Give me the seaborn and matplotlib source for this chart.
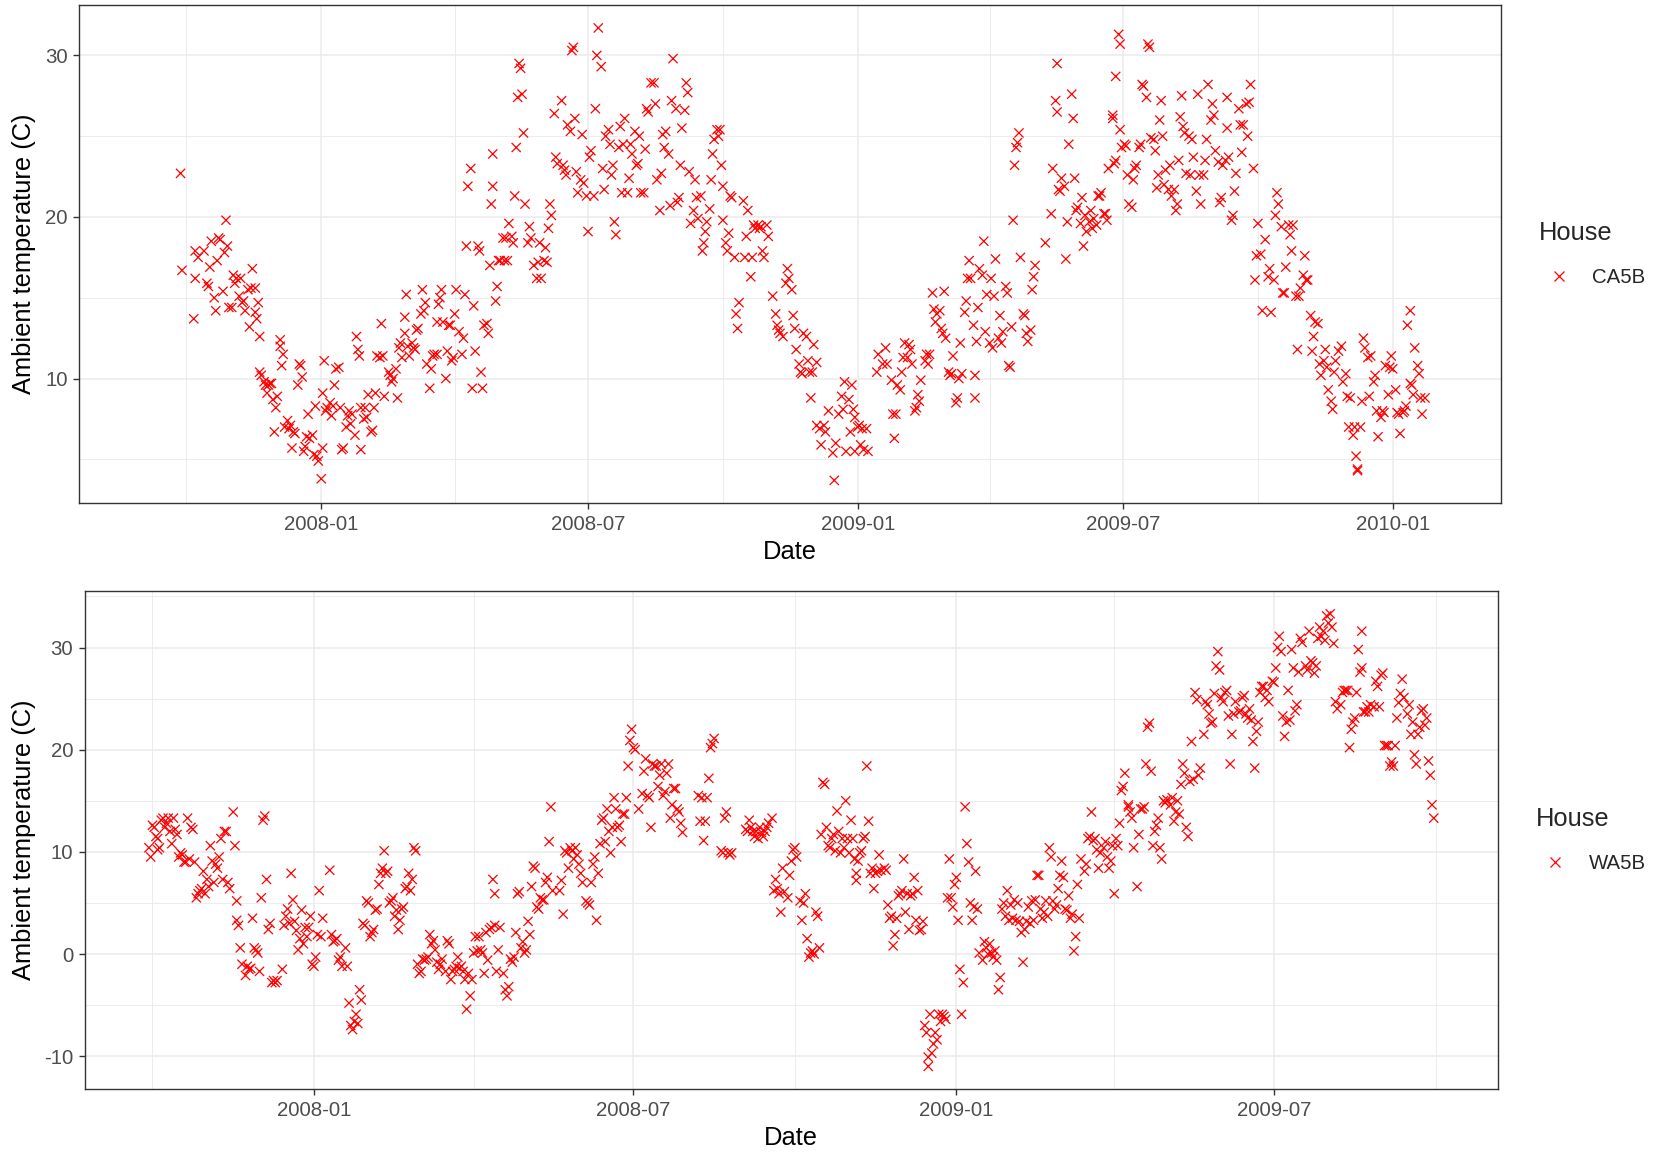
import numpy as np
import pandas as pd
import matplotlib
matplotlib.use("Agg")
import matplotlib.pyplot as plt
import matplotlib.dates as mdates
from matplotlib.ticker import MultipleLocator
import seaborn as sns

# ============================================================
# DATA  (days after 2008-01-01, ambient temperature in C)
# ============================================================

BASE_DATE = pd.Timestamp("2008-01-01")

ca5b_points = [
    (-96, 22.7), (-95, 16.7), (-87, 13.7), (-86, 16.2), (-86, 17.9), (-84, 17.5), (-80, 17.9), (-78, 15.9), (-77, 15.7), (-76, 16.9),
    (-75, 18.5), (-73, 15.0), (-72, 14.2), (-71, 17.3), (-70, 18.7), (-69, 18.6), (-67, 15.4), (-66, 17.8), (-65, 19.8), (-64, 18.2),
    (-63, 14.4), (-61, 14.4), (-60, 16.4), (-59, 15.9), (-58, 16.2), (-56, 15.1), (-55, 16.2), (-54, 14.7), (-53, 14.8), (-52, 14.2),
    (-50, 15.5), (-49, 13.2), (-48, 15.6), (-47, 16.8), (-45, 15.6), (-45, 14.1), (-44, 13.7), (-43, 14.7), (-42, 12.6), (-42, 10.4),
    (-41, 10.2), (-39, 9.8), (-38, 9.6), (-37, 9.1), (-36, 9.6), (-35, 9.7), (-34, 9.7), (-33, 8.7), (-32, 6.7), (-31, 8.2),
    (-30, 8.9), (-28, 12.4), (-28, 12.0), (-27, 10.8), (-26, 11.5), (-25, 7.0), (-23, 7.4), (-22, 6.9), (-21, 7.1), (-20, 5.7),
    (-19, 6.7), (-18, 6.6), (-16, 9.6), (-15, 10.9), (-14, 10.8), (-13, 10.1), (-12, 5.5), (-11, 5.8), (-10, 6.4), (-9, 7.8),
    (-8, 6.3), (-6, 6.5), (-5, 5.3), (-4, 8.3), (-3, 5.2), (-2, 4.9), (0, 3.8), (1, 5.7), (1, 9.1), (2, 11.1),
    (3, 8.0), (4, 8.2), (6, 8.5), (7, 7.7), (8, 8.3), (9, 9.6), (10, 10.6), (12, 10.7), (13, 8.2), (14, 5.6),
    (15, 5.7), (17, 7.0), (18, 7.7), (19, 8.0), (20, 7.2), (21, 7.8), (23, 6.5), (24, 12.6), (25, 11.8), (26, 11.4),
    (27, 8.2), (27, 5.6), (29, 7.5), (30, 8.2), (31, 7.6), (32, 9.0), (34, 6.7), (35, 6.8), (36, 8.2), (37, 9.1),
    (38, 11.4), (40, 11.3), (41, 13.4), (42, 11.4), (43, 8.9), (46, 10.4), (47, 10.2), (48, 9.8), (49, 10.0), (51, 10.6),
    (52, 8.8), (53, 11.9), (54, 12.2), (55, 11.3), (57, 12.8), (57, 13.8), (58, 15.2), (59, 12.0), (60, 11.4), (62, 12.2),
    (63, 11.9), (64, 11.8), (65, 13.0), (66, 13.1), (68, 14.0), (69, 15.5), (70, 14.2), (71, 14.7), (72, 10.9), (74, 9.4),
    (75, 10.6), (76, 11.4), (77, 11.5), (79, 13.5), (79, 11.5), (80, 14.6), (81, 15.0), (82, 15.5), (83, 13.5), (85, 10.0),
    (86, 11.7), (87, 13.3), (88, 13.3), (89, 11.1), (90, 11.3), (91, 14.0), (92, 15.5), (94, 12.9), (96, 11.5), (97, 12.5),
    (98, 15.2), (99, 18.2), (100, 21.9), (102, 23.0), (103, 9.4), (104, 14.5), (105, 11.7), (107, 18.2), (108, 17.9), (109, 10.4),
    (110, 9.4), (111, 13.3), (113, 13.4), (114, 12.8), (115, 17.0), (116, 20.8), (117, 23.9), (117, 21.9), (119, 14.8), (120, 15.7),
    (121, 17.3), (122, 17.3), (124, 18.7), (125, 17.3), (126, 18.7), (127, 17.3), (128, 19.6), (130, 18.8), (131, 18.4), (132, 21.3),
    (133, 24.3), (134, 27.4), (135, 29.5), (136, 29.2), (137, 27.6), (138, 25.2), (139, 20.8), (141, 18.4), (142, 19.4), (143, 18.7),
    (145, 17.0), (147, 16.2), (148, 17.2), (149, 18.4),
    (150, 16.2), (152, 17.3), (153, 18.1), (154, 17.2), (155, 19.3), (156, 20.8), (157, 20.1), (159, 26.4), (160, 23.7), (161, 23.3),
    (164, 27.2), (165, 23.2), (166, 22.9), (167, 22.6), (168, 25.7), (170, 25.3), (171, 30.3), (172, 30.5), (173, 26.1), (174, 22.8),
    (175, 21.5), (177, 22.3), (178, 25.1), (179, 22.1), (181, 21.3), (182, 19.1), (183, 23.7), (184, 24.1), (186, 21.3), (187, 26.7),
    (188, 30.0), (189, 31.7), (191, 29.3), (192, 23.0), (193, 21.7), (194, 25.0), (196, 25.4), (197, 24.5), (198, 22.6), (199, 23.2),
    (200, 19.7), (201, 18.9), (203, 24.3), (204, 25.6), (205, 21.5), (206, 24.5), (207, 26.1), (209, 21.5), (210, 22.4), (211, 24.5),
    (212, 23.9), (214, 25.3), (215, 23.2), (216, 23.3), (217, 25.0), (218, 21.5), (220, 21.5), (221, 24.2), (222, 26.7), (223, 26.5),
    (225, 28.3), (227, 28.3), (228, 27.0), (229, 22.3), (231, 20.4), (232, 22.7), (233, 25.1), (234, 24.3), (235, 25.3), (237, 23.9),
    (238, 20.7), (239, 27.2), (240, 29.8), (242, 26.7), (243, 20.9), (244, 21.2), (245, 23.2), (246, 25.5), (248, 26.6), (249, 28.3),
    (250, 27.7), (251, 22.8), (252, 19.6), (254, 20.4), (255, 22.3), (256, 21.2), (257, 19.9), (259, 21.3), (260, 17.9), (261, 18.4),
    (262, 19.1), (263, 19.7), (265, 20.5), (266, 22.3), (267, 23.9), (268, 24.8), (270, 25.4), (271, 25.0), (272, 25.4), (273, 23.2),
    (274, 21.9), (274, 19.8), (276, 18.4), (277, 17.9), (278, 19.0), (279, 21.3), (280, 21.2), (282, 17.5), (283, 14.0), (284, 13.1),
    (285, 14.7), (288, 21.0), (289, 17.5), (290, 18.8), (291, 20.4), (293, 16.3), (294, 17.5), (295, 19.5), (296, 19.3), (298, 19.5),
    (299, 19.3), (300, 19.4), (301, 17.9), (302, 17.5), (304, 19.5), (305, 18.8), (308, 15.1), (310, 14.0), (311, 13.3), (312, 13.0),
    (313, 12.8), (315, 12.6), (317, 15.9), (318, 16.8), (319, 16.2), (321, 15.5), (322, 13.9), (323, 13.1), (324, 11.8), (326, 10.9),
    (327, 10.4), (328, 10.3), (329, 12.8), (331, 12.6), (332, 11.1), (333, 10.4), (334, 8.8), (335, 10.4), (336, 12.1), (338, 11.0),
    (338, 7.1), (340, 6.9), (341, 5.9), (343, 7.1), (344, 6.7), (346, 8.0), (349, 5.4), (350, 3.7), (351, 6.0), (353, 7.8),
    (355, 8.9), (356, 8.1), (357, 9.8), (358, 5.5), (360, 8.7), (361, 6.7), (362, 9.6), (363, 8.1), (364, 7.6), (364, 5.5),
    (366, 7.0), (367, 7.1), (368, 5.9), (369, 6.9), (370, 5.6), (372, 6.9), (373, 5.5), (379, 10.4), (380, 11.5), (383, 10.9),
    (385, 11.9), (386, 10.9), (389, 9.9), (390, 7.8), (391, 6.3), (392, 7.8), (393, 9.6), (395, 9.3), (396, 10.4), (397, 11.3),
    (398, 12.2), (400, 11.3), (401, 12.1), (402, 11.8), (403, 10.9), (405, 8.0), (406, 8.2), (407, 9.0), (408, 8.6), (409, 9.9),
    (412, 11.1), (413, 11.5), (414, 10.9), (415, 11.5), (417, 15.3), (418, 14.3), (419, 13.5), (420, 14.0), (422, 14.2), (423, 13.1),
    (424, 12.8), (425, 15.4), (426, 12.5), (428, 10.4), (429, 10.2), (430, 10.3), (431, 11.4), (433, 8.5), (434, 8.8), (435, 10.0),
    (436, 12.2), (437, 10.3), (439, 14.1), (440, 14.8), (441, 16.2), (442, 17.3), (443, 16.2), (445, 13.3), (446, 10.2), (446, 8.8),
    (447, 12.3), (448, 14.4), (449, 16.8), (451, 16.4), (452, 18.5), (453, 12.9), (454, 15.2), (456, 12.2), (457, 16.2), (458, 11.9),
    (459, 15.1), (460, 17.4), (462, 12.5), (463, 13.9), (464, 12.2), (465, 12.9), (467, 15.7), (468, 15.3), (469, 10.8), (470, 10.7),
    (471, 13.2), (472, 19.8), (473, 23.2), (474, 24.3), (475, 24.6), (476, 25.2), (477, 17.5), (479, 14.0), (480, 13.9), (481, 12.8),
    (482, 12.3), (484, 13.0), (485, 15.5), (486, 16.3), (487, 17.0), (494, 18.4), (498, 20.2), (499, 23.0), (501, 27.2), (502, 29.5),
    (502, 26.5), (503, 21.7), (504, 21.6), (505, 22.4), (507, 21.9), (508, 17.4), (509, 19.7), (510, 24.5), (512, 27.6), (513, 26.1),
    (514, 22.4), (515, 20.4), (516, 20.6), (518, 19.6), (519, 21.2), (520, 18.2), (521, 20.1), (522, 19.1), (524, 19.7), (525, 20.4),
    (526, 19.3), (527, 19.9), (529, 19.5), (530, 21.3),
    (531, 21.3), (532, 21.5), (534, 20.2), (535, 20.2), (536, 19.8), (537, 23.0), (540, 26.3), (540, 26.1), (541, 23.3), (542, 23.5),
    (542, 28.7), (544, 31.3), (545, 30.7), (545, 25.4), (546, 24.3), (548, 24.5), (549, 24.4), (550, 22.6), (551, 20.8), (553, 20.6),
    (554, 22.3), (555, 23.0), (556, 23.2), (558, 24.3), (559, 24.5), (560, 28.2), (561, 28.1), (563, 27.4), (564, 30.7), (565, 30.5),
    (566, 24.9), (568, 24.8), (569, 24.1), (570, 21.8), (571, 22.6), (572, 26.0), (573, 27.2), (574, 25.0), (575, 22.0), (576, 22.9),
    (578, 21.7), (579, 23.2), (580, 21.3), (582, 21.7), (583, 20.4), (584, 20.8), (585, 23.5), (586, 26.2), (587, 27.5), (588, 25.6),
    (589, 25.2), (590, 22.7), (592, 25.0), (593, 22.6), (594, 24.8), (595, 23.7), (597, 21.6), (598, 27.6), (599, 22.6), (600, 20.8),
    (602, 22.6), (603, 23.5), (604, 24.8), (605, 28.2), (607, 26.0), (608, 27.0), (609, 26.3), (610, 24.1), (612, 23.4), (613, 20.9),
    (614, 21.2), (615, 23.2), (617, 23.5), (618, 27.4), (618, 25.5), (619, 23.7), (621, 19.8), (622, 20.1), (623, 21.6), (624, 22.7),
    (626, 26.7), (627, 25.7), (628, 24.0), (629, 25.7), (631, 27.0), (632, 25.0), (633, 27.1), (634, 28.2), (636, 23.0), (637, 16.1),
    (638, 17.6), (639, 19.6), (641, 17.7), (642, 14.2), (644, 18.6), (646, 16.3), (647, 16.8), (648, 14.1), (650, 16.1), (651, 20.1),
    (652, 21.5), (653, 20.8), (655, 19.4), (656, 15.3), (657, 15.3), (658, 16.9), (660, 19.5), (661, 18.9), (662, 17.9), (663, 19.5),
    (665, 15.1), (666, 11.8), (667, 15.1), (668, 15.6), (670, 16.4), (671, 17.6), (672, 16.1), (673, 16.1), (675, 13.9), (676, 11.7),
    (677, 12.6), (678, 13.5), (680, 13.4), (681, 10.9), (682, 10.2), (684, 11.1), (685, 11.8), (686, 10.7), (687, 9.3), (689, 8.6),
    (690, 8.1), (691, 10.4), (692, 11.1), (694, 11.7), (696, 12.0), (697, 9.8), (699, 10.3), (700, 8.9), (701, 7.0), (702, 8.8),
    (704, 6.5), (705, 7.0), (706, 5.2), (707, 4.3), (707, 4.4), (709, 7.0), (710, 8.6), (711, 12.5), (712, 11.9), (714, 11.3),
    (715, 8.9), (716, 11.4), (718, 9.8), (719, 10.2), (720, 8.0), (721, 6.4), (723, 7.6), (724, 8.0), (725, 7.9), (726, 10.8),
    (728, 9.0), (729, 10.7), (730, 11.4), (731, 10.6), (733, 9.3), (734, 7.9), (735, 7.8), (736, 6.6), (738, 7.9), (739, 8.0),
    (740, 8.3), (741, 13.3), (743, 14.2), (743, 9.7), (744, 9.6), (745, 9.0), (746, 11.9), (748, 10.8), (749, 10.3), (750, 8.8),
    (751, 7.8), (753, 8.8),
]

wa5b_points = [
    (-94, 10.4), (-93, 9.5), (-92, 12.6), (-91, 12.4), (-90, 11.5), (-89, 11.3), (-89, 10.2), (-88, 10.4), (-87, 13.1), (-86, 13.3),
    (-85, 12.4), (-84, 12.8), (-83, 13.3), (-82, 12.0), (-81, 10.8), (-80, 13.3), (-79, 12.2), (-78, 11.7), (-77, 9.5), (-76, 9.9),
    (-75, 9.7), (-74, 9.0), (-73, 9.0), (-72, 13.3), (-71, 9.3), (-70, 12.4), (-69, 12.2), (-68, 9.0), (-67, 5.5), (-66, 5.9),
    (-65, 6.2), (-64, 6.4), (-63, 8.1), (-62, 5.9), (-61, 7.3), (-60, 6.6), (-59, 10.6), (-58, 9.1), (-57, 7.0), (-56, 8.8),
    (-55, 8.4), (-54, 9.5), (-53, 11.3), (-52, 7.3), (-51, 12.0), (-50, 12.0), (-49, 7.0), (-48, 6.4), (-46, 13.9), (-45, 10.6),
    (-44, 5.2), (-44, 3.3), (-43, 2.8), (-42, 0.6), (-41, -1.0), (-39, -2.1), (-38, -1.2), (-37, -1.5), (-36, -1.4), (-35, 3.5),
    (-34, 0.6), (-33, 0.4), (-32, 0.1), (-31, -1.7), (-30, 5.5), (-29, 13.1), (-28, 13.5), (-27, 7.3), (-26, 2.4), (-25, 3.0),
    (-24, -2.8), (-23, -2.6), (-22, -2.8), (-21, -2.6), (-18, -1.5), (-17, 2.8), (-16, 3.7), (-15, 4.4), (-14, 3.0), (-13, 7.9),
    (-12, 5.3), (-11, 3.2), (-10, 2.3), (-9, 0.4), (-8, 1.5), (-7, 4.3), (-6, 1.0), (-5, 2.6), (-4, 1.7), (-3, 2.6),
    (-2, 3.7), (-1, -1.0), (0, -1.2), (1, -0.3), (2, 1.9), (3, 6.2), (4, 1.7), (5, 3.5), (9, 8.2), (10, 1.9),
    (11, 1.2), (12, 1.3), (13, 1.5), (14, -0.6), (15, -0.3), (16, -1.2), (18, 0.6), (19, -1.2), (20, -4.8), (21, -7.0),
    (22, -7.4), (23, -6.6), (24, -5.9), (25, -6.8), (26, -3.5), (27, -4.5), (28, 3.0), (29, 2.8), (30, 5.2), (31, 5.0),
    (32, 1.7), (33, 2.1), (34, 2.4), (35, 4.3), (36, 4.4), (37, 6.8), (38, 7.9), (39, 8.4), (40, 10.1), (41, 7.9),
    (42, 8.1), (43, 5.0), (44, 5.2), (45, 5.5), (46, 3.7), (47, 4.3), (48, 2.4), (49, 3.3), (50, 4.4), (51, 4.6),
    (52, 6.4), (53, 6.6), (54, 7.9), (55, 6.2), (56, 7.3), (57, 10.4), (58, 10.1), (59, -1.0), (60, -1.9), (61, -1.7),
    (62, -0.5), (63, -0.6), (64, -0.5), (65, -0.3), (66, 1.9), (67, 1.0), (68, 1.3), (69, 0.4), (70, -0.8), (71, -1.5),
    (72, -1.0), (73, -0.5), (75, -1.7), (76, 1.3), (77, 1.0), (78, -2.5), (79, -1.7), (80, -1.5), (81, -1.2), (82, -0.3),
    (83, -1.4), (84, -1.2), (85, -1.7), (86, -2.5), (87, -5.4), (88, -1.9), (89, -4.1), (90, -2.5), (91, 0.1), (92, 1.7),
    (93, 0.3), (94, 1.7), (95, 0.4), (96, 0.1), (97, -1.9), (98, 2.1), (99, -0.6), (100, 2.4), (101, 2.6), (102, 7.3),
    (103, 5.9), (103, 2.8), (104, -1.7), (105, 0.4), (106, 2.6), (108, -1.9), (109, -3.5), (110, -4.1), (111, -3.2), (112, -0.5),
    (113, -0.8), (114, -0.3), (115, 2.1), (116, 5.9), (117, 6.1), (118, 0.6), (119, 1.2), (120, 0.1), (121, 0.4), (122, 3.2),
    (123, 1.9), (124, 6.6), (125, 8.6), (126, 8.4), (127, 4.6), (128, 4.4), (129, 5.5), (130, 5.3), (131, 5.3), (132, 7.0),
    (133, 7.5), (134, 11.0), (135, 14.4), (136, 6.2),
    (140, 6.2), (141, 7.2), (142, 3.9), (143, 10.1), (144, 9.9), (145, 8.4), (146, 10.4), (147, 10.1), (148, 9.3), (149, 10.4),
    (150, 9.7), (151, 8.8), (152, 7.9), (153, 7.0), (155, 5.2), (156, 5.0), (157, 4.8), (158, 7.0), (159, 8.8), (160, 9.5),
    (161, 3.3), (162, 7.9), (163, 10.8), (164, 13.1), (165, 13.3), (166, 11.0), (167, 14.2), (168, 12.0), (169, 9.9), (170, 12.4),
    (171, 15.3), (172, 14.2), (173, 12.4), (174, 12.6), (175, 11.0), (176, 13.7), (177, 13.7), (178, 15.3), (179, 18.4), (180, 20.9),
    (181, 22.0), (182, 20.2), (183, 20.0), (185, 14.2), (187, 15.7), (188, 17.9), (189, 19.1), (190, 15.5), (191, 15.3), (192, 12.4),
    (193, 18.6), (194, 18.4), (195, 18.4), (196, 16.4), (197, 17.5), (198, 18.6), (199, 15.5), (200, 15.9), (201, 17.7), (202, 18.6),
    (203, 13.3), (204, 14.6), (205, 16.2), (206, 16.2), (207, 14.2), (208, 13.9), (209, 12.8), (210, 11.9), (219, 15.5), (220, 13.0),
    (221, 15.3), (222, 11.1), (223, 13.0), (224, 15.3), (225, 17.2), (226, 20.2), (227, 20.6), (228, 21.1), (232, 10.1), (233, 9.9),
    (234, 13.3), (235, 13.9), (236, 9.9), (237, 9.7), (238, 9.9), (246, 12.2), (247, 12.0), (248, 13.1), (249, 12.4), (250, 12.0),
    (251, 11.5), (252, 12.0), (253, 11.3), (254, 12.4), (255, 11.9), (256, 11.5), (257, 12.0), (258, 12.4), (259, 12.8), (261, 13.3),
    (262, 6.2), (263, 7.3), (264, 6.4), (265, 5.9), (266, 4.1), (267, 8.4), (268, 6.1), (270, 5.5), (271, 7.7), (272, 9.1),
    (273, 10.2), (274, 10.4), (275, 9.5), (277, 5.2), (278, 3.3), (279, 5.0), (280, 5.9), (281, 1.5), (282, -0.3), (283, 0.1),
    (284, 0.3), (285, 0.0), (286, 4.1), (287, 3.7), (288, 0.6), (289, 11.7), (290, 16.8), (291, 16.6), (292, 12.4), (293, 10.6),
    (294, 10.4), (295, 11.3), (296, 11.7), (297, 10.1), (298, 14.0), (299, 12.0), (300, 9.9), (301, 11.3), (302, 10.4), (303, 15.0),
    (304, 11.3), (305, 9.9), (306, 13.1), (307, 11.3), (308, 9.3), (309, 7.2), (309, 7.9), (310, 9.1), (311, 9.9), (312, 10.1),
    (313, 11.3), (314, 11.5), (315, 18.4), (316, 13.0), (317, 7.9), (318, 8.4), (319, 6.4), (320, 7.9), (321, 8.1), (322, 9.7),
    (323, 8.2), (325, 8.4), (326, 8.2), (327, 4.8), (328, 3.5), (329, 3.7), (330, 0.8), (331, 1.9), (332, 3.5), (333, 5.7),
    (334, 5.9), (335, 6.2), (336, 9.3), (337, 4.1), (338, 5.9), (339, 2.4), (340, 5.7), (341, 5.9), (342, 7.5), (343, 3.3),
    (344, 6.2), (345, 2.3), (346, 2.4), (347, 3.2), (348, -7.0), (349, -7.7), (350, -10.1), (350, -11.0), (351, -5.9), (352, -9.7),
    (353, -8.8), (354, -7.7), (355, -8.4), (356, -5.9), (357, -6.6), (358, -5.9), (359, -6.1), (360, -6.4), (361, 5.5), (362, 9.3),
    (363, 5.5), (364, 4.6), (365, 6.8), (366, 7.5), (367, 3.3), (368, -1.5), (369, -5.9), (370, -2.8), (371, 14.4), (372, 10.8),
    (373, 9.0), (374, 5.0), (375, 3.3), (376, 4.6), (377, 8.1), (378, 4.4), (379, 0.1), (381, -0.6), (382, 1.2), (383, 0.6),
    (384, 0.0), (385, 1.0), (386, 0.1), (387, -0.3), (388, 0.3), (389, -0.6), (390, -3.5), (391, -2.3), (392, 4.4), (393, 5.0),
    (394, 3.7), (395, 6.2), (396, 3.3), (397, 4.8), (398, 3.5), (399, 5.3), (400, 3.3), (401, 5.0), (402, 3.2), (403, 2.1),
    (404, -0.8), (405, 2.4), (406, 3.2), (407, 4.6), (408, 3.0), (409, 5.2), (410, 3.3), (411, 5.3), (412, 7.7), (413, 7.7),
    (414, 4.4), (415, 3.5), (416, 4.1), (417, 5.2), (418, 3.7), (419, 10.4), (420, 9.5), (421, 5.2), (422, 4.4), (423, 4.8),
    (424, 6.4), (425, 7.7), (426, 9.1), (427, 7.5), (428, 4.4), (429, 4.3), (430, 5.7), (431, 3.5), (432, 3.9), (433, 0.3),
    (434, 1.7), (435, 6.8), (436, 3.5), (437, 9.3), (439, 8.1), (440, 8.8), (441, 11.3), (442, 11.5), (443, 13.9), (444, 11.1),
    (445, 11.3), (446, 10.2), (447, 8.4),
    (448, 9.9), (450, 10.4), (451, 11.0), (452, 9.5), (453, 8.4), (454, 9.1), (455, 10.6), (456, 5.9), (457, 11.3), (458, 10.6),
    (459, 12.8), (460, 16.0), (461, 16.4), (462, 17.7), (464, 14.6), (464, 14.4), (465, 13.9), (466, 13.3), (467, 10.4), (469, 6.6),
    (470, 11.7), (471, 14.2), (472, 14.2), (473, 14.4), (474, 18.6), (475, 22.2), (476, 22.6), (477, 17.9), (478, 10.6), (479, 12.0),
    (480, 12.6), (481, 13.3), (482, 10.4), (483, 9.3), (484, 15.0), (485, 14.8), (486, 15.1), (488, 14.6), (489, 15.3), (490, 13.0),
    (491, 13.9), (492, 15.0), (493, 13.7), (494, 16.6), (495, 18.6), (496, 17.7), (497, 12.4), (498, 11.5), (499, 16.9), (500, 20.8),
    (501, 17.1), (502, 25.6), (503, 24.9), (504, 17.5), (505, 18.2), (507, 21.5), (508, 24.7), (509, 24.4), (510, 23.5), (511, 22.6),
    (512, 22.7), (513, 25.5), (514, 28.2), (515, 29.6), (516, 27.8), (517, 25.1), (518, 24.7), (519, 25.6), (520, 25.8), (521, 23.3),
    (522, 18.6), (523, 21.5), (524, 23.5), (525, 24.7), (527, 23.7), (528, 23.8), (529, 25.1), (530, 25.3), (531, 23.5), (532, 23.1),
    (533, 24.0), (534, 22.9), (535, 20.8), (536, 18.2), (537, 21.8), (538, 22.7), (539, 25.6), (540, 26.2), (541, 26.2), (542, 25.1),
    (543, 25.8), (544, 24.7), (546, 26.7), (547, 26.6), (548, 28.0), (549, 30.0), (550, 31.1), (551, 29.6), (552, 23.3), (553, 21.3),
    (554, 22.7), (555, 25.8), (556, 22.9), (557, 29.8), (558, 28.0), (559, 23.8), (560, 24.4), (561, 27.6), (562, 30.9), (563, 30.5),
    (565, 28.2), (566, 27.8), (567, 31.6), (568, 28.7), (569, 28.5), (570, 27.5), (571, 28.2), (572, 30.9), (573, 32.0), (574, 31.1),
    (575, 31.6), (576, 30.7), (577, 33.1), (578, 32.4), (579, 33.3), (580, 32.0), (581, 30.4), (582, 24.7), (583, 24.0), (585, 24.4),
    (586, 25.6), (587, 25.8), (588, 25.8), (589, 25.8), (590, 20.2), (591, 22.0), (592, 22.7), (593, 23.1), (594, 25.6), (595, 29.8),
    (596, 27.6), (597, 31.6), (597, 28.0), (598, 23.7), (599, 23.7), (600, 24.2), (601, 23.7), (602, 24.4), (604, 24.2), (605, 26.7),
    (606, 26.2), (607, 24.2), (608, 27.3), (609, 27.5), (610, 20.4), (611, 20.4), (612, 20.4), (613, 18.4), (614, 18.8), (615, 18.4),
    (616, 20.4), (617, 23.1), (618, 24.6), (619, 25.5), (620, 26.9), (621, 25.1), (623, 23.5), (624, 24.4), (625, 21.5), (626, 22.7),
    (627, 19.5), (628, 18.6), (629, 21.5), (630, 22.2), (631, 23.8), (632, 24.0), (633, 22.4), (634, 23.1), (635, 18.9), (636, 17.5),
    (637, 14.6), (638, 13.3),
]

# top panel date range is wider than its data (days after BASE_DATE)
CA_XLIM_DAYS = (-165, 805)

# ============================================================
# STYLE
# ============================================================

sns.set_style("white")
plt.rcParams["font.family"] = ["Liberation Sans", "DejaVu Sans"]
plt.rcParams["axes.unicode_minus"] = False

GRID = "#EBEBEB"
DARK = "#333333"
TICK_TXT = "#4D4D4D"
TICK_SIZE = 14.7
TITLE_SIZE = 18.4


def to_frame(points, house):
    days = [p[0] for p in points]
    temps = [p[1] for p in points]
    return pd.DataFrame({
        "Date": BASE_DATE + pd.to_timedelta(days, unit="D"),
        "Temp": temps,
        "House": house,
    })


def draw_panel(ax, df, xlim=None):

    sns.scatterplot(
        data=df,
        x="Date",
        y="Temp",
        hue="House",
        palette=["red"],
        marker="x",
        s=44,
        linewidth=0.9,
        ax=ax,
        zorder=3
    )

    # ggplot style 5% expansion
    lo, hi = df["Temp"].min(), df["Temp"].max()
    pad = 0.05 * (hi - lo)
    ax.set_ylim(lo - pad, hi + pad)

    if xlim is None:
        d0, d1 = df["Date"].min(), df["Date"].max()
        dpad = (d1 - d0) * 0.05
        xlim = (d0 - dpad, d1 + dpad)
    ax.set_xlim(xlim)

    ax.xaxis.set_major_locator(mdates.MonthLocator(bymonth=[1, 7]))
    ax.xaxis.set_minor_locator(mdates.MonthLocator(bymonth=[4, 10]))
    ax.xaxis.set_major_formatter(mdates.DateFormatter("%Y-%m"))
    ax.yaxis.set_major_locator(MultipleLocator(10))
    ax.yaxis.set_minor_locator(MultipleLocator(5))

    ax.grid(which="minor", color=GRID, linewidth=0.65)
    ax.grid(which="major", color=GRID, linewidth=1.15)
    ax.set_axisbelow(True)

    ax.tick_params(
        which="major",
        length=4.6,
        width=1.0,
        color=DARK,
        labelsize=TICK_SIZE,
        labelcolor=TICK_TXT,
        pad=3.7,
        bottom=True,
        left=True
    )
    ax.tick_params(which="minor", length=0)

    for sp in ax.spines.values():
        sp.set_visible(True)
        sp.set_color(DARK)
        sp.set_linewidth(1.0)

    ax.set_xlabel("Date", fontsize=TITLE_SIZE, color="black", labelpad=4.5)
    ax.set_ylabel("Ambient temperature (C)", fontsize=TITLE_SIZE, color="black")

    sns.move_legend(
        ax,
        "center left",
        bbox_to_anchor=(1.0, 0.5),
        frameon=False,
        title="House",
        title_fontsize=TITLE_SIZE,
        fontsize=TICK_SIZE,
        alignment="left",
        handlelength=1.9,
        handletextpad=0.68,
        borderaxespad=1.46,
        labelspacing=1.14
    )


# ============================================================
# FIGURE
# ============================================================

W, H = 1660, 1153
fig = plt.figure(figsize=(W / 100, H / 100), dpi=100)

ax_top = fig.add_axes([79.4 / W, 1 - 503 / H, 1421.8 / W, 497.7 / H])
ax_bot = fig.add_axes([84.7 / W, 1 - 1089 / H, 1413.3 / W, 497.8 / H])

ca = to_frame(ca5b_points, "CA5B")
wa = to_frame(wa5b_points, "WA5B")

ca_xlim = (
    BASE_DATE + pd.Timedelta(days=CA_XLIM_DAYS[0]),
    BASE_DATE + pd.Timedelta(days=CA_XLIM_DAYS[1])
)

draw_panel(ax_top, ca, xlim=ca_xlim)
draw_panel(ax_bot, wa)

# y titles sit at the same figure x in both panels
ax_top.yaxis.set_label_coords((36 - 79.4) / 1421.8, 0.5)
ax_bot.yaxis.set_label_coords((36 - 84.7) / 1413.3, 0.5)

fig.savefig("out.png", dpi=100)
plt.close(fig)
print("Saved -> out.png")
